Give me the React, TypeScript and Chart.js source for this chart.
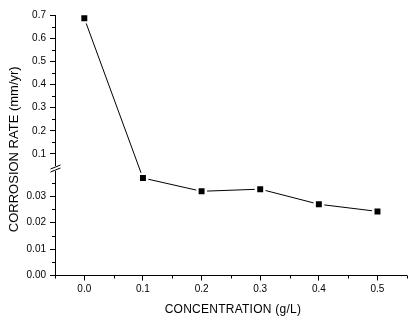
import React, { useEffect, useRef } from "react";
import { Chart, registerables } from "chart.js";

Chart.register(...registerables);

// ---- data ----
const concentration = [0.0, 0.1, 0.2, 0.3, 0.4, 0.5];
const corrosionRate = [0.686, 0.0368, 0.0318, 0.0326, 0.0269, 0.0242];

// ---- tick labels ----
const xMajorTicks = [0.0, 0.1, 0.2, 0.3, 0.4, 0.5];
const xMinorTicks = [-0.05, 0.05, 0.15, 0.25, 0.35, 0.45, 0.55];
const yHighMajorTicks = [0.1, 0.2, 0.3, 0.4, 0.5, 0.6, 0.7];
const yHighMinorTicks = [0.15, 0.25, 0.35, 0.45, 0.55, 0.65];
const yLowMajorTicks = [0.0, 0.01, 0.02, 0.03];
const yLowMinorTicks = [0.005, 0.015, 0.025, 0.035];

const xTitle = "CONCENTRATION (g/L)";
const yTitle = "CORROSION RATE (mm/yr)";

// values at or above this go on the upper (broken) segment
const breakValue = 0.05;

const FONT = "'Liberation Sans', Arial, sans-serif";

const highPoints = concentration
  .map((x, i) => ({ x, y: corrosionRate[i] }))
  .filter((p) => p.y >= breakValue);
const lowPoints = concentration
  .map((x, i) => ({ x, y: corrosionRate[i] }))
  .filter((p) => p.y < breakValue);

const decorPlugin = {
  id: "decor",
  afterDraw(chart: any) {
    const ctx = chart.ctx as CanvasRenderingContext2D;
    const sx = chart.scales.x;
    const sHigh = chart.scales.yHigh;
    const sLow = chart.scales.yLow;
    const area = chart.chartArea;
    ctx.save();
    ctx.strokeStyle = "#000";
    ctx.lineWidth = 1;

    // minor ticks
    const minorLen = 3;
    ctx.beginPath();
    xMinorTicks.forEach((v) => {
      const px = Math.round(sx.getPixelForValue(v)) + 0.5;
      ctx.moveTo(px, sx.top);
      ctx.lineTo(px, sx.top + minorLen);
    });
    yHighMinorTicks.forEach((v) => {
      const py = Math.round(sHigh.getPixelForValue(v)) + 0.5;
      ctx.moveTo(sHigh.right - minorLen, py);
      ctx.lineTo(sHigh.right, py);
    });
    yLowMinorTicks.forEach((v) => {
      const py = Math.round(sLow.getPixelForValue(v)) + 0.5;
      ctx.moveTo(sLow.right - minorLen, py);
      ctx.lineTo(sLow.right, py);
    });
    ctx.stroke();

    // connecting line segments, with gaps around markers
    const pts = concentration.map((x, i) => {
      const v = corrosionRate[i];
      const sc = v >= breakValue ? sHigh : sLow;
      return { px: sx.getPixelForValue(x), py: sc.getPixelForValue(v) };
    });
    const gap = 5.5;
    ctx.beginPath();
    for (let i = 0; i < pts.length - 1; i++) {
      const a = pts[i];
      const b = pts[i + 1];
      const dx = b.px - a.px;
      const dy = b.py - a.py;
      const len = Math.hypot(dx, dy);
      if (len <= gap * 2) continue;
      const ux = dx / len;
      const uy = dy / len;
      ctx.moveTo(a.px + ux * gap, a.py + uy * gap);
      ctx.lineTo(b.px - ux * gap, b.py - uy * gap);
    }
    ctx.stroke();

    // axis break mark
    const axisX = Math.round(sHigh.right) + 0.5;
    const by = sHigh.bottom;
    ctx.fillStyle = "#fff";
    ctx.fillRect(axisX - 2, by - 2.5, 4, 5);
    ctx.beginPath();
    ctx.moveTo(axisX - 5, by + 0.5);
    ctx.lineTo(axisX + 5, by - 3.5);
    ctx.moveTo(axisX - 5, by + 3.5);
    ctx.lineTo(axisX + 5, by - 0.5);
    ctx.stroke();

    // titles
    ctx.fillStyle = "#000";
    ctx.textAlign = "center";
    ctx.textBaseline = "middle";
    ctx.font = `12px ${FONT}`;
    (ctx as any).letterSpacing = "0.25px";
    ctx.fillText(xTitle, (area.left + area.right) / 2 + 2, 310);
    (ctx as any).letterSpacing = "0px";
    ctx.font = `13px ${FONT}`;
    ctx.translate(14, (area.top + area.bottom) / 2 + 4);
    ctx.rotate(-Math.PI / 2);
    ctx.fillText(yTitle, 0, 0);
    ctx.restore();
  },
};

const tickFont = { family: FONT, size: 10 };

export default function App() {
  const ref = useRef<HTMLCanvasElement | null>(null);
  useEffect(() => {
    document.body.style.margin = "0";
    const canvas = ref.current;
    if (!canvas) return;
    const pointStyle = {
      pointStyle: "rect" as const,
      pointRadius: 4.2,
      pointHoverRadius: 4.2,
      pointBackgroundColor: "#000",
      pointBorderColor: "#000",
      pointBorderWidth: 0,
      showLine: false,
    };
    const chart = new Chart(canvas, {
      type: "scatter",
      data: {
        datasets: [
          { label: "high", data: highPoints, yAxisID: "yHigh", ...pointStyle },
          { label: "low", data: lowPoints, yAxisID: "yLow", ...pointStyle },
        ],
      },
      options: {
        animation: false,
        responsive: true,
        maintainAspectRatio: false,
        devicePixelRatio: 1,
        layout: { padding: { top: 15, right: 4, left: 0, bottom: 0 } },
        plugins: { legend: { display: false }, tooltip: { enabled: false } },
        events: [],
        scales: {
          x: {
            type: "linear",
            min: -0.05,
            max: 0.55,
            afterBuildTicks: (s: any) => {
              s.ticks = xMajorTicks.map((v) => ({ value: v }));
            },
            afterFit: (s: any) => {
              s.height = 41.5;
            },
            ticks: {
              color: "#000",
              font: tickFont,
              padding: 3,
              maxRotation: 0,
              autoSkip: false,
              callback: (v: any) => Number(v).toFixed(1),
            },
            grid: {
              drawOnChartArea: false,
              drawTicks: true,
              tickLength: 5,
              color: "#000",
            },
            border: { color: "#000", width: 1 },
          },
          yLow: {
            type: "linear",
            position: "left",
            stack: "y",
            stackWeight: 107,
            min: 0,
            max: 0.0404,
            afterBuildTicks: (s: any) => {
              s.ticks = yLowMajorTicks.map((v) => ({ value: v }));
            },
            afterFit: (s: any) => {
              s.width = 55;
            },
            ticks: {
              color: "#000",
              font: tickFont,
              padding: 4,
              autoSkip: false,
              callback: (v: any) => Number(v).toFixed(2),
            },
            grid: {
              drawOnChartArea: false,
              drawTicks: true,
              tickLength: 5,
              color: "#000",
            },
            border: { color: "#000", width: 1 },
          },
          yHigh: {
            type: "linear",
            position: "left",
            stack: "y",
            stackWeight: 153.5,
            min: 0.0374,
            max: 0.7,
            afterBuildTicks: (s: any) => {
              s.ticks = yHighMajorTicks.map((v) => ({ value: v }));
            },
            afterFit: (s: any) => {
              s.width = 55;
            },
            ticks: {
              color: "#000",
              font: tickFont,
              padding: 4,
              autoSkip: false,
              callback: (v: any) => Number(v).toFixed(1),
            },
            grid: {
              drawOnChartArea: false,
              drawTicks: true,
              tickLength: 5,
              color: "#000",
            },
            border: { color: "#000", width: 1 },
          },
        },
      },
      plugins: [decorPlugin],
    } as any);
    return () => chart.destroy();
  }, []);
  return (
    <div style={{ position: "relative", width: 411, height: 317, background: "#fff" }}>
      <canvas ref={ref} />
    </div>
  );
}
